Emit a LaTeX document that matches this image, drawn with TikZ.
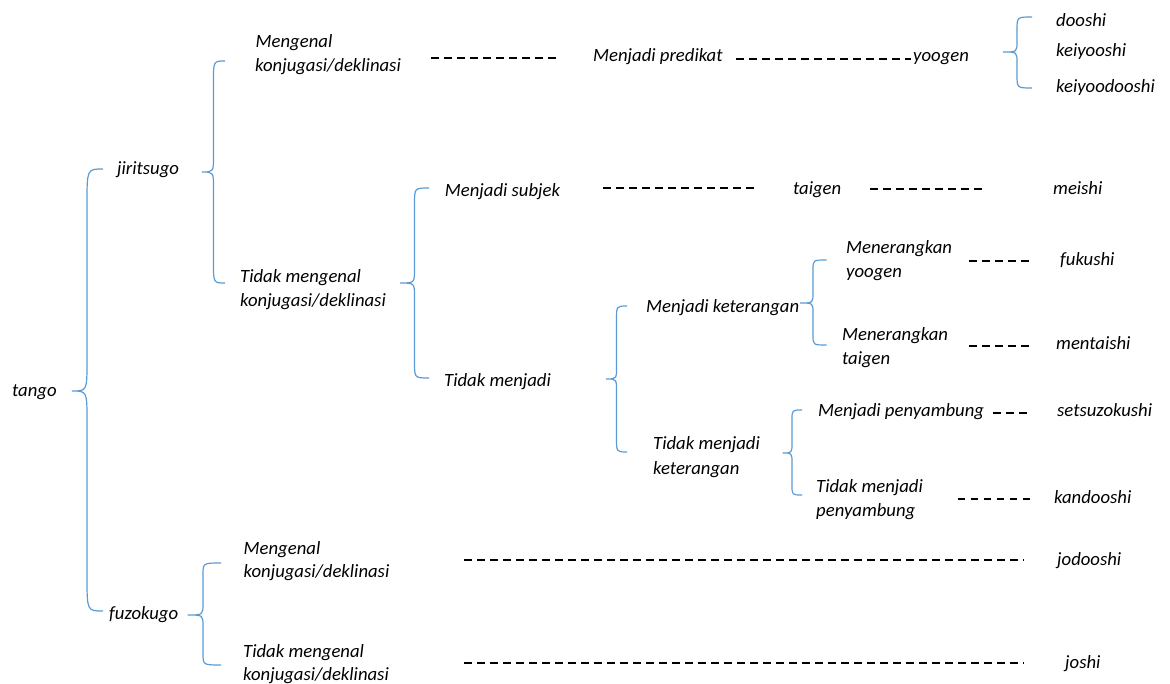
\documentclass[tikz,border=0pt]{standalone}
\usepackage{fontspec}
\setmainfont{Carlito}
\definecolor{braceblue}{HTML}{5B9BD5}
% brace: xe (ends), xs (spine), xt (tip), yt (top), ym (tip y), yb (bottom), re (end curl), rt (tip curl)
\newcommand{\mybrace}[8]{%
  \draw[bracestyle] (#1,#4) .. controls (#2,#4) .. (#2,{#4+#7}) -- (#2,{#5-#8})
    .. controls (#2,#5) .. (#3,#5) .. controls (#2,#5) .. (#2,{#5+#8})
    -- (#2,{#6-#7}) .. controls (#2,#6) .. (#1,#6);}
\begin{document}
\begin{tikzpicture}[x=1pt,y=-1pt,
  lbl/.style={anchor=base west, inner sep=0pt, font=\fontsize{18.7}{24}\selectfont\itshape, text=black},
  dashline/.style={draw=black, line width=1.8pt, dash pattern=on 7.5pt off 5.5pt},
  bracestyle/.style={draw=braceblue, line width=1.2pt}]
\useasboundingbox[fill=white] (0,0) rectangle (1170,684);

% labels
\node[lbl] (tango) at (12,397) {tango};
\node[lbl] (jiri) at (117,175) {jiritsugo};
\node[lbl] (fuzo) at (109,619.5) {fuzokugo};
\node[lbl] (jm1) at (255.5,48) {Mengenal};
\node[lbl] (jm2) at (255,72) {konjugasi/deklinasi};
\node[lbl] (jt1) at (240,283) {Tidak mengenal};
\node[lbl] (jt2) at (240,307) {konjugasi/deklinasi};
\node[lbl] (pred) at (593,62) {Menjadi predikat};
\node[lbl] (yoogen) at (913,62) {yoogen};
\node[lbl] (dooshi) at (1056,27) {dooshi};
\node[lbl] (keiyo) at (1056,57) {keiyooshi};
\node[lbl] (keiyodo) at (1056,93) {keiyoodooshi};
\node[lbl] (subj) at (444.7,197) {Menjadi subjek};
\node[lbl] (taigen) at (793,194.5) {taigen};
\node[lbl] (meishi) at (1053,195) {meishi};
\node[lbl] (tmj) at (444,387) {Tidak menjadi};
\node[lbl] (mket) at (646,312.5) {Menjadi keterangan};
\node[lbl] (mery1) at (846,253.5) {Menerangkan};
\node[lbl] (mery2) at (846,277.5) {yoogen};
\node[lbl] (fuku) at (1060,266) {fukushi};
\node[lbl] (mert1) at (842,341) {Menerangkan};
\node[lbl] (mert2) at (842,365) {taigen};
\node[lbl] (ment) at (1056,349.5) {mentaishi};
\node[lbl] (tmk1) at (653,449.5) {Tidak menjadi};
\node[lbl] (tmk2) at (653,474) {keterangan};
\node[lbl] (mpy) at (818,417) {Menjadi penyambung};
\node[lbl] (setsu) at (1057,417) {setsuzokushi};
\node[lbl] (tmp1) at (816,492) {Tidak menjadi};
\node[lbl] (tmp2) at (816,516) {penyambung};
\node[lbl] (kando) at (1054,503) {kandooshi};
\node[lbl] (fm1) at (243.5,554) {Mengenal};
\node[lbl] (fm2) at (243.5,577.5) {konjugasi/deklinasi};
\node[lbl] (ft1) at (243,657) {Tidak mengenal};
\node[lbl] (ft2) at (243,680) {konjugasi/deklinasi};
\node[lbl] (jodo) at (1057,565) {jodooshi};
\node[lbl] (joshi) at (1065,668.5) {joshi};

% dashed connectors
\coordinate (d1a) at (431,57.8);   \coordinate (d1b) at (559.5,57.8);
\coordinate (d2a) at (736,58.8);   \coordinate (d2b) at (911,58.8);
\coordinate (d3a) at (603,187.8);  \coordinate (d3b) at (758,187.8);
\coordinate (d4a) at (870,188.8);  \coordinate (d4b) at (985,188.8);
\coordinate (d5a) at (969,261);    \coordinate (d5b) at (1030,261);
\coordinate (d6a) at (969,345.8);  \coordinate (d6b) at (1030,345.8);
\coordinate (d7a) at (993,413.3);  \coordinate (d7b) at (1027,413.3);
\coordinate (d8a) at (957.5,499);  \coordinate (d8b) at (1030,499);
\coordinate (d9a) at (464,560);    \coordinate (d9b) at (1024,560);
\coordinate (d10a) at (464,662.7); \coordinate (d10b) at (1024,662.7);
\foreach \i in {1,...,10} {\draw[dashline] (d\i a) -- (d\i b);}

% braces
\mybrace{103}{87}{72}{169}{391}{611}{35}{30}
\mybrace{225}{213.5}{202}{61}{172}{283}{20}{16}
\mybrace{429}{414.5}{400}{188}{283}{378}{16}{14}
\mybrace{627}{616.5}{606}{306}{379}{452}{14}{12}
\mybrace{826.5}{813}{800}{260}{303}{345}{10}{10}
\mybrace{802}{792}{782.5}{410}{453}{495}{10}{10}
\mybrace{1032}{1017}{1003}{17}{52}{88}{13}{10}
\mybrace{221}{203}{187.5}{563}{615}{665}{12}{11}
\end{tikzpicture}
\end{document}
